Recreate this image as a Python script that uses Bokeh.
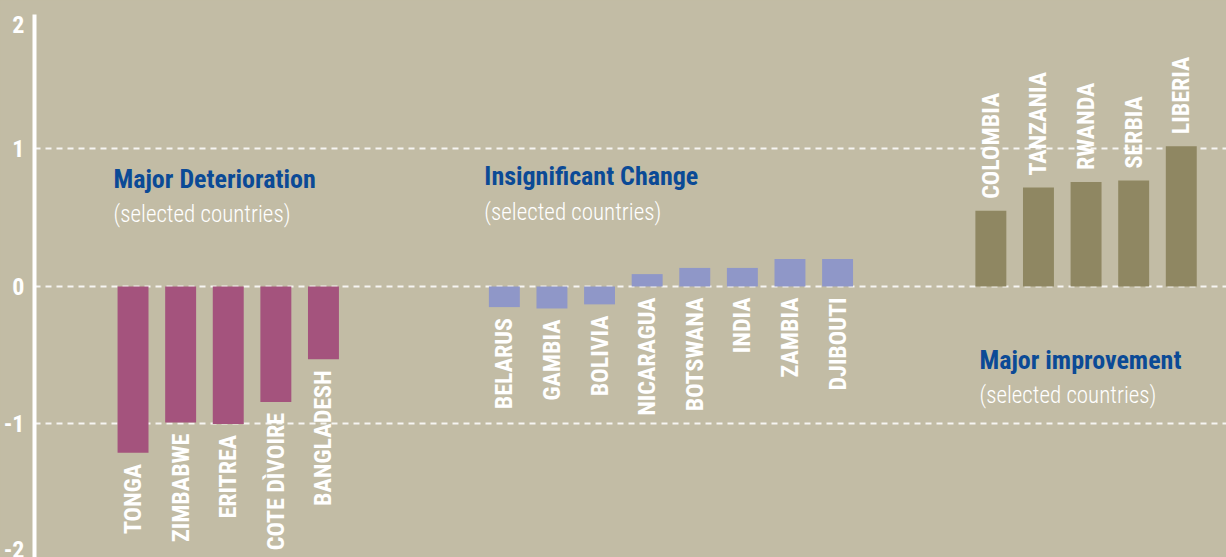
import math
from bokeh.plotting import figure
from bokeh.models import Range1d, FixedTicker, ColumnDataSource, Label
from bokeh.core.properties import value
from bokeh.embed import file_html
from bokeh.resources import INLINE
from jinja2 import Template

# ---------------- data ----------------
det_countries = ["TONGA", "ZIMBABWE", "ERITREA", "COTE DÌVOIRE", "BANGLADESH"]
det_values = [-1.21, -0.99, -1.00, -0.84, -0.53]

ins_countries = ["BELARUS", "GAMBIA", "BOLIVIA", "NICARAGUA", "BOTSWANA", "INDIA", "ZAMBIA", "DJIBOUTI"]
ins_values = [-0.15, -0.16, -0.13, 0.09, 0.135, 0.135, 0.20, 0.20]

imp_countries = ["COLOMBIA", "TANZANIA", "RWANDA", "SERBIA", "LIBERIA"]
imp_values = [0.55, 0.72, 0.76, 0.77, 1.02]

y_ticks = [-2, -1, 0, 1, 2]
group_titles = ["Major Deterioration", "Insignificant Change", "Major improvement"]
group_subtitle = "(selected countries)"

# ---------------- style ----------------
BG = "#c2bca5"
C_DET = "#a4537d"
C_INS = "#8f97c8"
C_IMP = "#8f8762"
BLUE = "#0b4a96"
COND = "'Roboto Condensed', Roboto"
COND_LIGHT = "'Roboto Condensed Light', 'Roboto Condensed', Roboto"

p = figure(width=1226, height=557, output_backend="svg", toolbar_location=None,
           x_range=Range1d(0, 25.04), y_range=Range1d(-1.971, 1.978),
           x_axis_location=None, background_fill_color=BG, border_fill_color=BG,
           min_border_left=34, min_border_right=0, min_border_top=14, min_border_bottom=0,
           outline_line_color=None)

# y axis
lim_hi, lim_lo = 1.905, -1.91
tick_pos = [max(min(t, lim_hi), lim_lo) for t in y_ticks]
ax = p.yaxis[0]
ax.ticker = FixedTicker(ticks=tick_pos)
ax.major_label_overrides = {pos: str(t) for pos, t in zip(tick_pos, y_ticks)}
ax.axis_line_color = "white"
ax.axis_line_width = 4
ax.major_tick_line_color = None
ax.minor_tick_line_color = None
ax.major_tick_out = 0
ax.major_tick_in = 0
ax.minor_tick_out = 0
ax.minor_tick_in = 0
ax.major_label_text_color = "white"
ax.major_label_text_font = COND
ax.major_label_text_font_style = "bold"
ax.major_label_text_font_size = "24px"
ax.major_label_standoff = 10

p.xgrid.visible = False
p.ygrid.ticker = FixedTicker(ticks=[t for t in y_ticks if abs(t) < 2])
p.ygrid.grid_line_color = "white"
p.ygrid.grid_line_alpha = 0.85
p.ygrid.grid_line_width = 2
p.ygrid.grid_line_dash = "6 5"

# group layout (slot units)
BAR_W = 0.65
starts = [2.07, 9.87, 20.09]
groups = [(det_countries, det_values, C_DET),
          (ins_countries, ins_values, C_INS),
          (imp_countries, imp_values, C_IMP)]

for gi, ((names, vals, col), s0) in enumerate(zip(groups, starts)):
    xs = [s0 + i for i in range(len(names))]
    src = ColumnDataSource(dict(x=xs, top=vals, bottom=[0] * len(vals), name=names,
                                ly=[min(v, 0) if gi < 2 else v for v in vals]))
    p.vbar(x="x", top="top", bottom="bottom", width=BAR_W, source=src,
           fill_color=col, line_color=None)
    neg = gi < 2
    p.text(x="x", y="ly", text="name", source=src, angle=math.pi / 2,
           text_align="right" if neg else "left", text_baseline="middle",
           y_offset=11 if neg else -12,
           text_color="white", text_font=value(COND), text_font_style="bold",
           text_font_size="24px")

# group titles
title_pos = [(1.66, 0.785, 0.52), (9.45, 0.80, 0.535), (19.85, -0.535, -0.795)]
for t, (tx, ty, sy) in zip(group_titles, title_pos):
    p.add_layout(Label(x=tx, y=ty, text=t, text_color=BLUE, text_font=COND,
                       text_font_style="bold", text_font_size="26px",
                       text_baseline="alphabetic"))
    p.add_layout(Label(x=tx, y=sy, text=group_subtitle, text_color="white",
                       text_font=COND_LIGHT, text_font_size="23px",
                       text_baseline="alphabetic"))

template = Template("""<!DOCTYPE html>
<html lang="en">
<head>
<meta charset="utf-8">
<title>{{ title }}</title>
{{ bokeh_css }}
{{ bokeh_js }}
<style>html, body { background: #c2bca5; margin: 0; padding: 0; overflow: hidden; }</style>
</head>
<body>
{{ plot_div }}
{{ plot_script }}
</body>
</html>""")

open("out.html", "w").write(file_html(p, INLINE, template=template))
